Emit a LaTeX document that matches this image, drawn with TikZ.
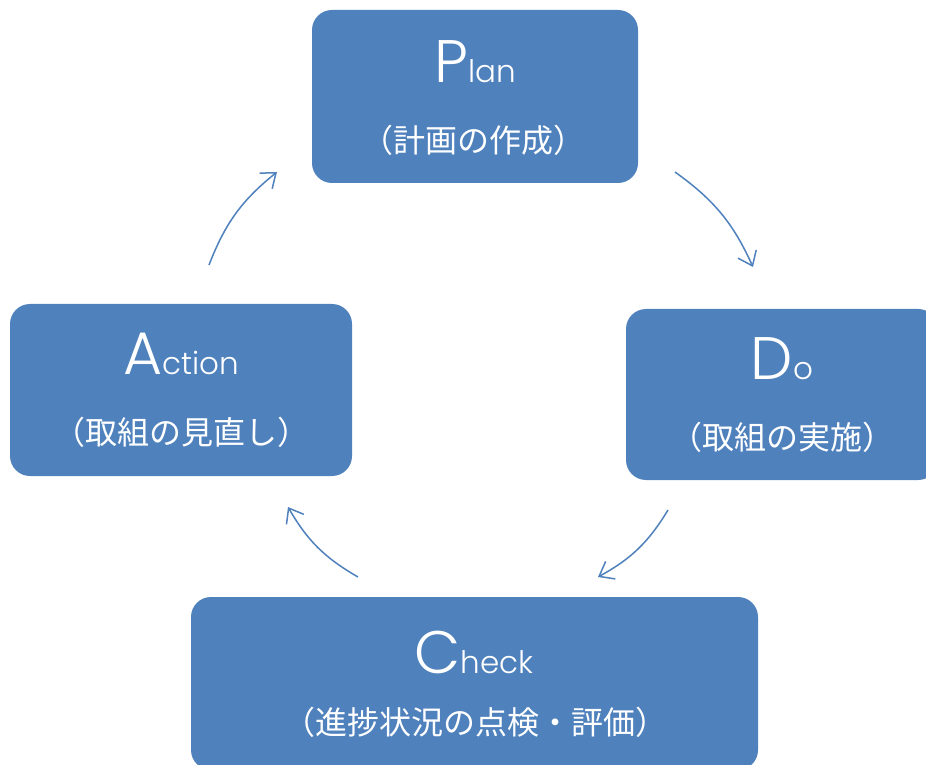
\documentclass[tikz,border=0pt]{standalone}
\usepackage{fontspec}
\setmainfont{Noto Sans CJK JP}
\newfontfamily\latinfont{Poppins}[UprightFont=* Light]
\usetikzlibrary{arrows.meta}
\definecolor{boxblue}{HTML}{4F81BD}
\tikzset{
  pdcabox/.style={fill=boxblue, draw=none, rounded corners=20pt, inner sep=0pt},
  headword/.style={text=white, anchor=base, inner sep=0pt},
  subword/.style={text=white, anchor=center, inner sep=0pt, font=\fontsize{32}{34}\selectfont},
  cycarrow/.style={draw=boxblue, line width=1.5pt, -{Straight Barb[length=13pt,width=20pt,line width=1.5pt]}},
}
\newcommand{\bigfirst}[2]{{\latinfont\fontsize{60}{60}\selectfont #1}{\latinfont\fontsize{31}{31}\selectfont #2}}
\begin{document}
\begin{tikzpicture}[x=1pt,y=1pt]
  \clip (0,0) rectangle (926,764);
  \fill[white] (0,0) rectangle (926,764);
  % boxes
  \node[pdcabox, minimum width=326pt, minimum height=173pt] (plan) at (475,667.5) {};
  \node[pdcabox, minimum width=312pt, minimum height=171pt] (do) at (782,369.5) {};
  \node[pdcabox, minimum width=567pt, minimum height=173pt] (check) at (474.5,80.5) {};
  \node[pdcabox, minimum width=342pt, minimum height=172pt] (action) at (181,374) {};
  % texts
  \node[headword] (plant) at (475,681) {\bigfirst{P}{lan}};
  \node[subword] (planj) at (473,624) {（計画の作成）};
  \node[headword] (dot) at (782,384) {\bigfirst{D}{o}};
  \node[subword] (doj) at (782,327) {（取組の実施）};
  \node[headword] (checkt) at (474,91) {\bigfirst{C}{heck}};
  \node[subword] (checkj) at (475,42) {（進捗状況の点検・評価）};
  \node[headword] (actiont) at (181,389) {\bigfirst{A}{ction}};
  \node[subword] (actionj) at (181,332) {（取組の見直し）};
  % arrow end points
  \coordinate (pd1) at (675,592);
  \coordinate (pd2) at (753,497);
  \coordinate (dc1) at (668,254);
  \coordinate (dc2) at (598,187);
  \coordinate (ca1) at (358,187);
  \coordinate (ca2) at (288,257);
  \coordinate (ap1) at (209,499);
  \coordinate (ap2) at (277,592);
  \draw[cycarrow] (pd1) to[bend left=15] (pd2);
  \draw[cycarrow] (dc1) to[bend left=15] (dc2);
  \draw[cycarrow] (ca1) to[bend left=15] (ca2);
  \draw[cycarrow] (ap1) to[bend left=15] (ap2);
\end{tikzpicture}
\end{document}
